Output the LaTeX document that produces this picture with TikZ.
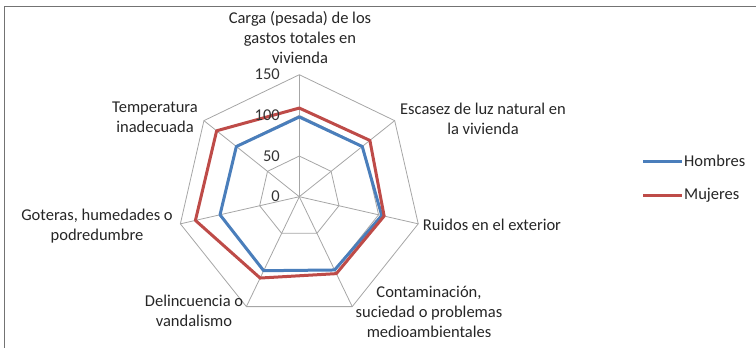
\documentclass[tikz,border=0pt]{standalone}
\usepackage{fontspec}
\setmainfont{Carlito}
\begin{document}
\begin{tikzpicture}[x=1pt,y=-1pt,
  font=\fontsize{16.5}{20}\selectfont,
  lbl/.style={align=center,text=black!85,inner sep=0pt},
  ticklbl/.style={anchor=east,text=black!80,inner sep=0pt},
  gridline/.style={draw=black!35,line width=0.8pt},
  framel/.style={draw=black!55,line width=1pt},
  hombres/.style={draw={rgb,255:red,74;green,126;blue,187},line width=3pt,line join=round},
  mujeres/.style={draw={rgb,255:red,190;green,75;blue,72},line width=3pt,line join=round}]
\useasboundingbox (0,0) rectangle (756,348);
\draw[framel] (4,348) -- (4,6) -- (756,6);
\coordinate (O) at (299.3,196.7);
\begin{scope}[shift={(O)}]
  \foreach \r in {50,100,150}{
    \draw[gridline] (-90:\r*0.8133) \foreach \k in {1,...,6}{ -- ({\k*360/7-90}:\r*0.8133) } -- cycle;
  }
  \foreach \k in {0,...,6}{
    \draw[gridline] (0,0) -- ({\k*360/7-90}:150*0.8133);
  }
  \draw[hombres] (-90:98*0.8133) \foreach \k/\v in {1/99,2/104,3/100,4/101,5/100,6/99}{ -- ({\k*360/7-90}:\v*0.8133) } -- cycle;
  \draw[mujeres] (-90:109*0.8133) \foreach \k/\v in {1/111,2/107,3/105,4/111,5/131,6/130}{ -- ({\k*360/7-90}:\v*0.8133) } -- cycle;
\end{scope}
% tick labels
\node[ticklbl] (t0) at (280,196.7) {0};
\node[ticklbl] (t50) at (280,156.0) {50};
\node[ticklbl] (t100) at (280,115.4) {100};
\node[ticklbl] (t150) at (280,74.7) {150};
% axis labels
\node[lbl] (carga) at (300,38) {Carga (pesada) de los\\gastos totales en\\vivienda};
\node[lbl] (escasez) at (483,118.5) {Escasez de luz natural en\\la vivienda};
\node[lbl] (ruidos) at (492,225) {Ruidos en el exterior};
\begin{scope}
  \clip (0,0) rectangle (756,336);
  \node[lbl] (contam) at (429,312) {Contaminación,\\suciedad o problemas\\medioambientales};
\end{scope}
\node[lbl] (delinc) at (194,311) {Delincuencia o\\vandalismo};
\node[lbl] (goteras) at (97,226.5) {Goteras, humedades o\\podredumbre};
\node[lbl] (temp) at (155,117) {Temperatura\\inadecuada};
% legend
\coordinate (lh1) at (643,161);
\coordinate (lh2) at (682,161);
\coordinate (lm1) at (643,195);
\coordinate (lm2) at (682,195);
\draw[hombres] (lh1) -- (lh2);
\draw[mujeres] (lm1) -- (lm2);
\node[lbl,anchor=west] (lgh) at (684,161) {Hombres};
\node[lbl,anchor=west] (lgm) at (684,195) {Mujeres};
\end{tikzpicture}
\end{document}
